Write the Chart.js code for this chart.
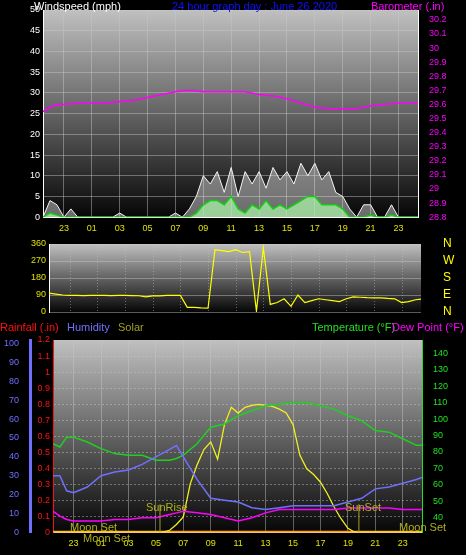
<!DOCTYPE html>
<html>
<head>
<meta charset="utf-8">
<script src="https://cdn.jsdelivr.net/npm/chart.js@4"></script>
<style>
  body { margin: 0; background: #000; width: 466px; height: 555px; overflow: hidden; position: relative; font-family: "Liberation Sans", Arial, sans-serif; }
  canvas { position: absolute; left: 0; }
  .t { position: absolute; font-size: 11px; white-space: nowrap; line-height: 12px; }
</style>
</head>
<body>
<canvas id="top" width="466" height="240" style="top:0"></canvas>
<canvas id="mid" width="466" height="90" style="top:234px"></canvas>
<canvas id="bot" width="466" height="235" style="top:320px"></canvas>

<div class="t" style="left:34px;top:0;color:#fff">Windspeed (mph)</div>
<div class="t" style="left:172px;top:0;color:#1010ff">24 hour graph day : June 26 2020</div>
<div class="t" style="left:371px;top:0;color:#ff00ff">Barometer (.in)</div>
<div class="t" style="left:0;top:321px;color:#ff1010">Rainfall (.in)</div>
<div class="t" style="left:67px;top:321px;color:#7070ff">Humidity</div>
<div class="t" style="left:118px;top:321px;color:#a0a020">Solar</div>
<div class="t" style="left:312px;top:321px;color:#20e020">Temperature (°F)</div>
<div class="t" style="left:392px;top:321px;color:#ff00ff">Dew Point (°F)</div>
<div class="t" style="left:70px;top:521px;color:#b0b020">Moon Set</div>
<div class="t" style="left:83px;top:532px;color:#b0b020">Moon Set</div>
<div class="t" style="left:399px;top:521px;color:#b0b020">Moon Set</div>
<div class="t" style="left:146px;top:501px;color:#b0b020">SunRise</div>
<div class="t" style="left:345px;top:501px;color:#b0b020">SunSet</div>

<script>
// ------- Data -------
const hourLabels = [-1, 1, 3, 5, 7, 9, 11, 13, 15, 17, 19, 21, 23];

const halfHours = [-2.5,-2,-1.5,-1,-0.5,0,0.5,1,1.5,2,2.5,3,3.5,4,4.5,5,5.5,6,6.5,7,7.5,8,8.5,9,9.5,10,10.5,11,11.5,12,12.5,13,13.5,14,14.5,15,15.5,16,16.5,17,17.5,18,18.5,19,19.5,20,20.5,21,21.5,22,22.5,23,23.5,24,24.4];
const windGust = [0,4,3,0,2,0,0,0,0,0,0,1,0,0,0,0,0,0,0,1,0,2,5,10,8,11,6,12,5,11,8,11,7,12,9,11,8,13,10,13,9,11,6,5,2,0,3,3,0,0,3,0,0,0,0];
const windAvg = [0,1,0.5,0,0,0,0,0,0,0,0,0,0,0,0,0,0,0,0,0,0,0,1,3,4,4,3,5,2,1,3,2,4,2,3,2,3,4,5,5,3,3,3,2,0,0,0,0.5,0,0,0.5,0,0,0,0];
const windDir = [100,95,90,88,88,87,88,88,88,87,88,88,87,86,80,85,85,88,88,88,25,25,22,20,330,325,320,330,315,320,5,340,40,50,70,30,90,50,60,70,65,60,55,70,80,78,76,75,75,72,70,50,55,65,68];
const solar = [0,0,0,0,0,0,0,0,0,0,0,0,0,0,0,0,0,10,40,80,250,350,430,470,380,560,650,620,650,660,665,660,655,640,620,560,400,330,300,260,200,130,70,20,0,0,0,0,0,0,0,0,0,0,0];

const hours = [-2.5,-2,-1.5,-1,0,1,2,3,4,5,6,6.5,7,8,9,10,11,12,13,14,15,16,17,18,19,20,21,22,23,24,24.4];
const pressure = [29.55,29.58,29.6,29.6,29.61,29.61,29.61,29.62,29.63,29.65,29.67,29.68,29.69,29.7,29.69,29.69,29.69,29.69,29.67,29.66,29.64,29.61,29.58,29.57,29.57,29.57,29.59,29.6,29.61,29.61,29.61];
const temperature = [85,83,89,89,86,82,79,78,78,75,75,76,78,85,95,97,102,105,108,109,110,110,108,106,102,99,93,92,88,84,84];
const humidity = [30,30,22,21,24,30,32,33,36,40,44,46,40,28,18,17,16,13,12,13,14,14,14,14,16,18,23,24,26,28,29];
const dewPoint = [44,41,39,38,38,38,39,39,40,40,42,43,44,43,42,40,38,40,43,45,45,45,45,45,46,46,46,46,45,45,45];

const sunRise = 5.3;
const sunSet = 19.8;

function pts(xs, ys) { return xs.map((x, i) => ({ x, y: ys[i] })); }

// plot area gradient background
const bgPlugin = {
  id: 'bg',
  beforeDraw(chart) {
    const a = chart.chartArea, c = chart.ctx;
    const g = c.createLinearGradient(0, a.top, 0, a.bottom);
    g.addColorStop(0, '#c0c0c0');
    g.addColorStop(1, '#060606');
    c.save();
    c.fillStyle = g;
    c.fillRect(a.left, a.top, a.right - a.left, a.bottom - a.top);
    c.restore();
  }
};

const grid = { color: 'rgba(200,200,200,0.45)', borderDash: [1, 2], drawTicks: false };
const tickFont = { family: 'Liberation Sans', size: 9 };

function xAxis(show) {
  return {
    type: 'linear', min: -2.5, max: 24.4, display: show ? true : false,
    afterBuildTicks: s => { s.ticks = hourLabels.map(v => ({ value: v })); },
    ticks: { color: '#e0e000', font: tickFont, padding: 6, autoSkip: false, callback: v => String((v + 24) % 24).padStart(2, '0') },
    grid: grid, border: { color: '#fff' }
  };
}
function fixW(w) { return s => { s.width = w; }; }
function fixWNoPad(w) { return s => { s.width = w; s.paddingTop = 0; s.paddingBottom = 0; }; }

const line = (data, color, axis, extra) => Object.assign({
  data, borderColor: color, borderWidth: 1.5, pointRadius: 0, yAxisID: axis, tension: 0
}, extra || {});

// ------- Wind / barometer -------
new Chart(document.getElementById('top'), {
  type: 'line',
  data: { datasets: [
    line(pts(hours, pressure), '#ff00ff', 'yb'),
    line(pts(halfHours, windAvg), '#10d010', 'yw', { fill: 'origin', backgroundColor: 'rgba(170,240,170,0.75)' }),
    line(pts(halfHours, windGust), '#f4f4f4', 'yw', { fill: 'origin', backgroundColor: 'rgba(230,230,230,0.45)', borderWidth: 1 })
  ]},
  options: {
    responsive: false, animation: false,
    layout: { padding: { top: 10 } },
    plugins: { legend: { display: false }, tooltip: { enabled: false } },
    scales: {
      x: xAxis(true),
      yw: { position: 'left', min: 0, max: 50, afterFit: fixW(43),
        ticks: { stepSize: 5, autoSkip: false, color: '#fff', font: tickFont }, grid: grid, border: { color: '#fff' } },
      yb: { position: 'right', min: 28.8, max: 30.27, afterFit: fixW(48),
        afterBuildTicks: s => { s.ticks = []; for (let i = 0; i <= 14; i++) s.ticks.push({ value: +(28.8 + i * 0.1).toFixed(1) }); },
        ticks: { autoSkip: false, color: '#ff00ff', font: tickFont, callback: v => String(+v.toFixed(1)) }, grid: { display: false }, border: { color: '#fff' } }
    }
  },
  plugins: [bgPlugin]
});

// ------- Wind direction -------
const compass = { 0: 'N', 90: 'E', 180: 'S', 270: 'W', 360: 'N' };
const vGrid = {
  id: 'vgrid',
  beforeDatasetsDraw(chart) {
    const c = chart.ctx, x = chart.scales.x, a = chart.chartArea;
    c.save();
    c.strokeStyle = 'rgba(200,200,200,0.45)';
    c.setLineDash([1, 2]);
    hourLabels.forEach(h => {
      const px = Math.round(x.getPixelForValue(h)) + 0.5;
      c.beginPath(); c.moveTo(px, a.top); c.lineTo(px, a.bottom); c.stroke();
    });
    c.restore();
  }
};
new Chart(document.getElementById('mid'), {
  type: 'line',
  data: { datasets: [ line(pts(halfHours, windDir), '#ffff00', 'yd', { borderWidth: 1.2 }) ] },
  options: {
    responsive: false, animation: false,
    layout: { padding: { top: 10, bottom: 12 } },
    plugins: { legend: { display: false }, tooltip: { enabled: false } },
    scales: {
      x: xAxis(false),
      yd: { position: 'left', min: 0, max: 360, afterFit: fixWNoPad(49),
        ticks: { stepSize: 90, autoSkip: false, color: '#e0e000', font: tickFont }, grid: grid, border: { color: '#fff' } },
      yc: { position: 'right', min: 0, max: 360, afterFit: fixWNoPad(45),
        ticks: { stepSize: 90, autoSkip: false, color: '#ffff00', font: { family: 'Liberation Sans', size: 12 }, padding: 14, callback: v => compass[v] },
        grid: { display: false }, border: { display: false } }
    }
  },
  plugins: [bgPlugin, vGrid]
});

// ------- Temperature / humidity / solar / rain -------
const sunLines = {
  id: 'sun',
  afterDatasetsDraw(chart) {
    const c = chart.ctx, x = chart.scales.x, a = chart.chartArea;
    c.save();
    c.strokeStyle = '#a0a020';
    c.lineWidth = 1;
    [sunRise, sunSet].forEach(h => {
      const px = x.getPixelForValue(h);
      c.beginPath(); c.moveTo(px, a.bottom); c.lineTo(px, a.bottom - 28); c.stroke();
    });
    c.restore();
  }
};

new Chart(document.getElementById('bot'), {
  type: 'line',
  data: { datasets: [
    line(pts(hours, humidity), '#7070ff', 'yh'),
    line(pts(hours, dewPoint), '#ff00ff', 'yt'),
    line(pts(hours, temperature), '#20d020', 'yt'),
    line(pts(halfHours, solar), '#f0f020', 'ys', { borderWidth: 1.3 }),
    line([{ x: -2.5, y: 0 }, { x: 24.4, y: 0 }], '#ffa000', 'yr', { borderWidth: 3 }),
    line([{ x: -2.5, y: 0 }, { x: 24.4, y: 0 }], '#ff0000', 'yr', { borderWidth: 1.5 })
  ]},
  options: {
    responsive: false, animation: false,
    layout: { padding: { top: 20 } },
    plugins: { legend: { display: false }, tooltip: { enabled: false } },
    scales: {
      x: xAxis(true),
      yr: { position: 'left', min: 0, max: 1.2, afterFit: fixW(23),
        afterBuildTicks: s => { s.ticks = []; for (let i = 0; i <= 12; i++) s.ticks.push({ value: +(i * 0.1).toFixed(1) }); },
        ticks: { autoSkip: false, color: '#ff1010', font: tickFont, callback: v => String(+v.toFixed(1)) }, grid: grid, border: { color: '#ff1010', dash: [2, 2] } },
      yh: { position: 'left', min: 0, max: 102, afterFit: fixW(30),
        afterBuildTicks: s => { s.ticks = []; for (let v = 0; v <= 100; v += 10) s.ticks.push({ value: v }); },
        ticks: { autoSkip: false, color: '#7070ff', font: tickFont }, grid: { display: false }, border: { color: '#7070ff', width: 3 } },
      yt: { position: 'right', min: 31.25, max: 148, afterFit: fixW(44),
        afterBuildTicks: s => { s.ticks = []; for (let v = 40; v <= 140; v += 10) s.ticks.push({ value: v }); },
        ticks: { autoSkip: false, color: '#20e020', font: tickFont }, grid: { display: false }, border: { color: '#20e020' } },
      ys: { display: false, min: 0, max: 1000 }
    }
  },
  plugins: [bgPlugin, sunLines]
});
</script>
</body>
</html>
